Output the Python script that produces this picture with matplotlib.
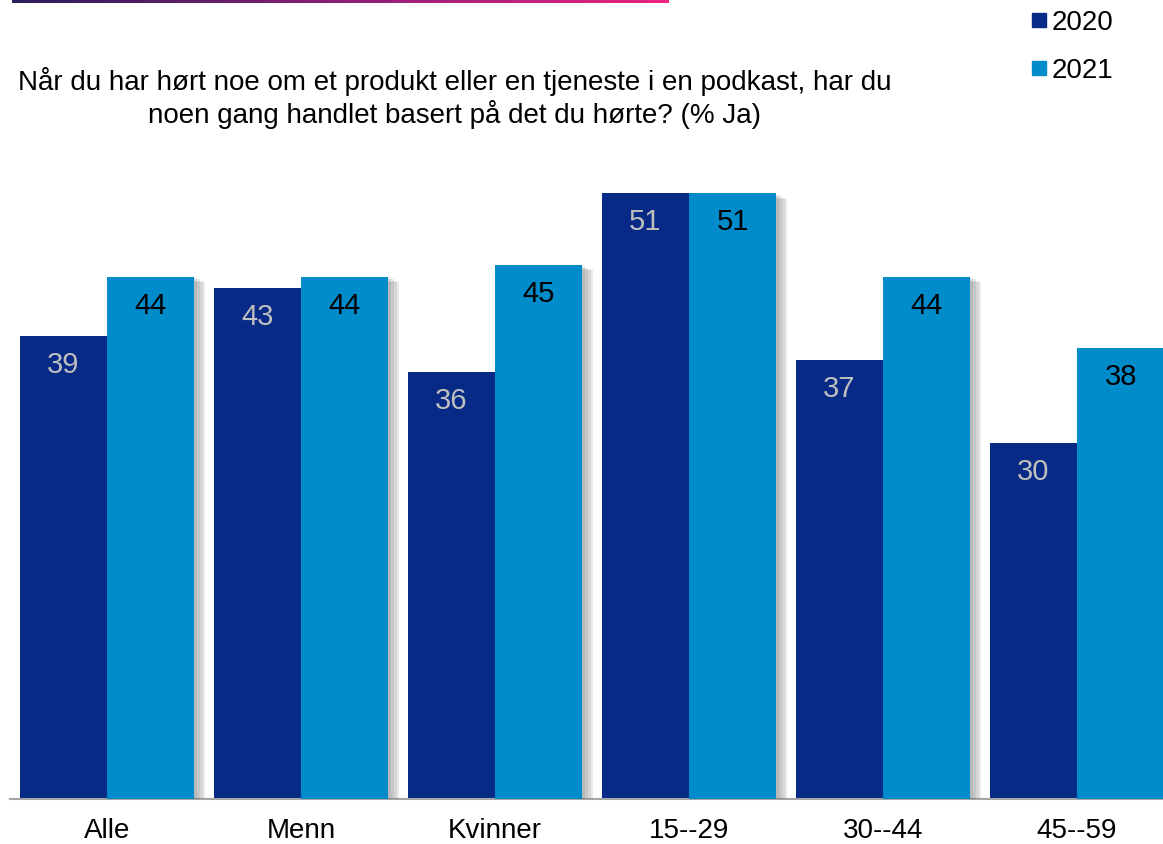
import numpy as np
import matplotlib as mpl
mpl.use("Agg")
import matplotlib.pyplot as plt
import matplotlib.patheffects as pe
from matplotlib.colors import LinearSegmentedColormap

plt.rcParams["font.family"] = ["Liberation Sans", "DejaVu Sans"]

categories = ["Alle", "Menn", "Kvinner", "15--29", "30--44", "45--59"]
years = ["2020", "2021"]
values_2020 = [39, 43, 36, 51, 37, 30]
values_2021 = [44, 44, 45, 51, 44, 38]
title = ("Når du har hørt noe om et produkt eller en tjeneste i en podkast, har du\n"
         "noen gang handlet basert på det du hørte? (% Ja)")

dark = "#062a85"
light = "#008bcb"

W, H = 1163, 844
fig = plt.figure(figsize=(W / 100, H / 100), dpi=100)

# gradient strip at the top edge
strip = fig.add_axes([12 / W, 1 - 3 / H, 656 / W, 3 / H])
cmap = LinearSegmentedColormap.from_list("strip", ["#2a1d5c", "#8a1f78", "#ec237f"])
strip.imshow(np.linspace(0, 1, 256)[None, :], aspect="auto", cmap=cmap)
strip.axis("off")

ax = fig.add_axes([10 / W, 45 / H, 1153 / W, 653 / H])
x = np.arange(len(categories))
bw = 0.45
# soft drop shadow built from a few translucent layers
shadow = [pe.SimplePatchShadow(offset=(d, -d / 2), shadow_rgbFace="#666666", alpha=0.14)
          for d in (2, 4, 6, 8)] + [pe.Normal()]

bars1 = ax.bar(x - bw / 2, values_2020, bw, color=dark, zorder=2, path_effects=shadow)
bars2 = ax.bar(x + bw / 2, values_2021, bw, color=light, zorder=3, path_effects=shadow)

for bars, col in ((bars1, "#bfbfbf"), (bars2, "black")):
    for b in bars:
        ax.annotate(f"{b.get_height():.0f}", (b.get_x() + b.get_width() / 2, b.get_height()),
                    xytext=(0, -29), textcoords="offset pixels", ha="center", va="center",
                    fontsize=21, color=col, zorder=5)

ax.set_xlim(-0.5, 5.5 - 11 / 194)
ax.set_ylim(0, 55)
ax.set_xticks(x)
ax.set_xticklabels(categories, fontsize=20)
ax.tick_params(axis="x", length=0, pad=14)
ax.set_yticks([])
for s in ("top", "right", "left"):
    ax.spines[s].set_visible(False)
ax.spines["bottom"].set_color("#a6a6a6")
ax.spines["bottom"].set_linewidth(1.5)

fig.text(455 / W, 1 - 98 / H, title, ha="center", va="center", fontsize=20,
         linespacing=1.2)

# legend
for i, (yr, col) in enumerate(zip(years, [dark, light])):
    yc = 1 - (20 + 48 * i) / H
    fig.patches.append(plt.Rectangle((1032 / W, yc - 7 / H), 14 / W, 14 / H,
                                     transform=fig.transFigure, color=col))
    fig.text(1052 / W, yc - 3 / H, yr, ha="left", va="center", fontsize=20)

fig.savefig("out.png", dpi=100)
